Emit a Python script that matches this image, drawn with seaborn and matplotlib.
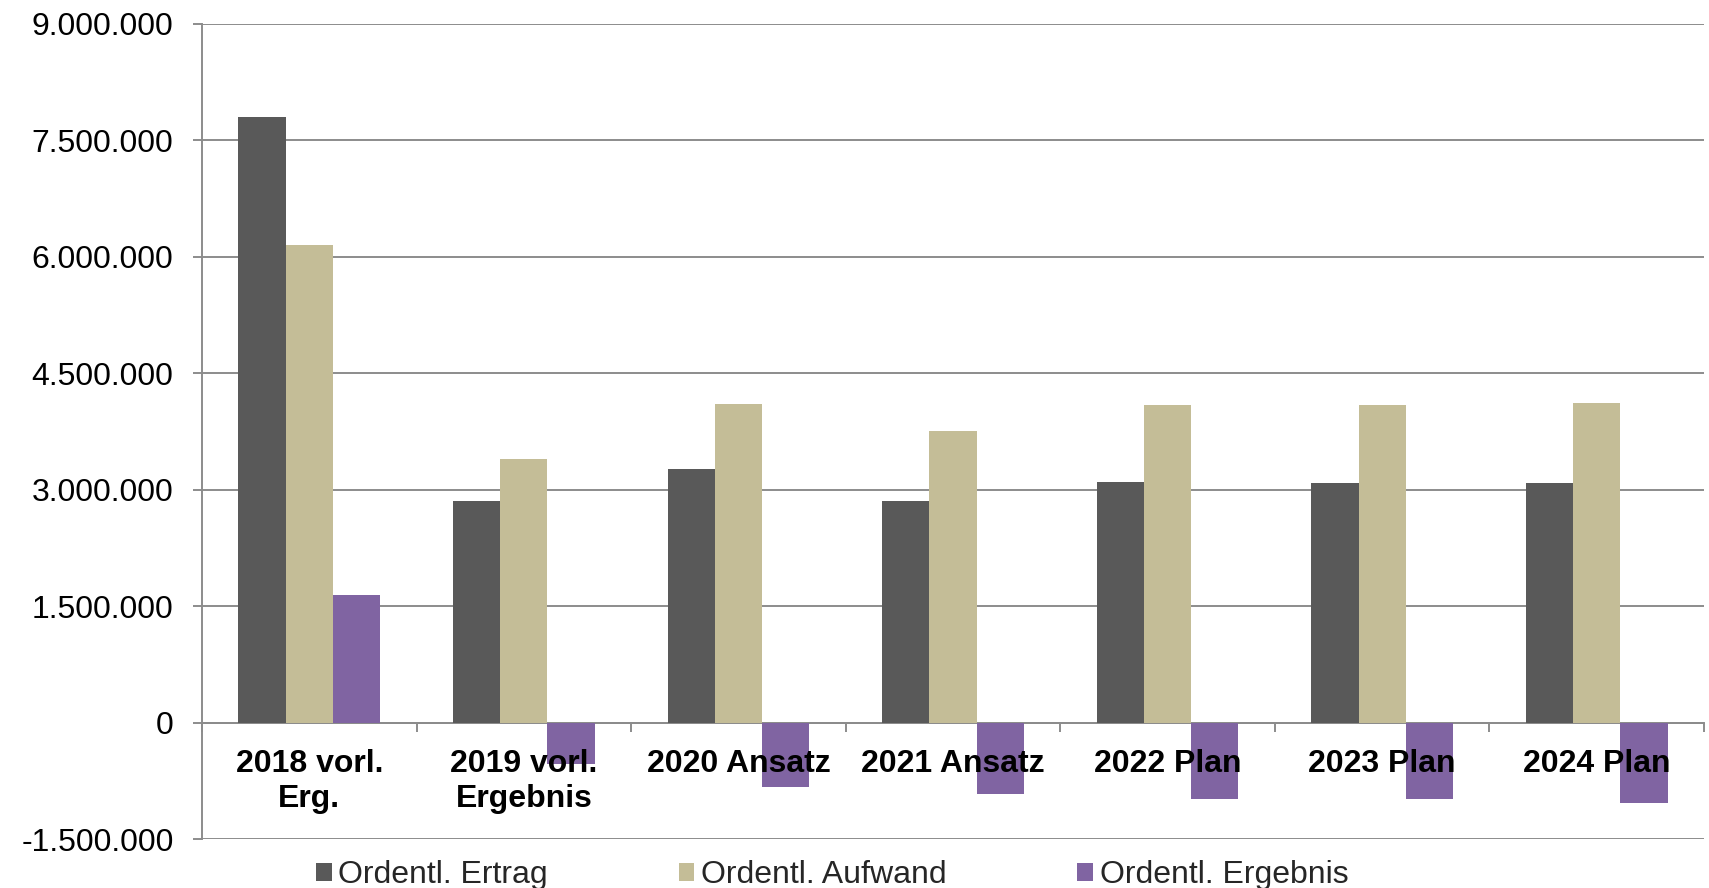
import matplotlib
matplotlib.use("Agg")
import matplotlib.pyplot as plt
import matplotlib.ticker as mticker
from matplotlib.patches import Patch
import seaborn as sns
import pandas as pd

# ---- data ----
kategorien = ["2018 vorl.\nErg.", "2019 vorl.\nErgebnis", "2020 Ansatz", "2021 Ansatz",
              "2022 Plan", "2023 Plan", "2024 Plan"]
serien = ["Ordentl. Ertrag", "Ordentl. Aufwand", "Ordentl. Ergebnis"]
ertrag = [7800000, 2860000, 3270000, 2850000, 3100000, 3090000, 3090000]
aufwand = [6150000, 3390000, 4100000, 3760000, 4090000, 4090000, 4120000]
ergebnis = [1650000, -530000, -830000, -920000, -980000, -990000, -1030000]
farben = ["#595959", "#C4BD97", "#8064A2"]
y_ticks = [-1500000, 0, 1500000, 3000000, 4500000, 6000000, 7500000, 9000000]

rows = []
for name, vals in zip(serien, [ertrag, aufwand, ergebnis]):
    for k, v in zip(kategorien, vals):
        rows.append({"Kategorie": k, "Serie": name, "Wert": v})
df = pd.DataFrame(rows)

sns.set_theme(style="white")
plt.rcParams["font.family"] = ["Liberation Sans", "DejaVu Sans"]

fig = plt.figure(figsize=(17.09, 8.88), dpi=100)
ax = fig.add_axes([202 / 1709, 49 / 888, (1704 - 202) / 1709, (839 - 24) / 888])

sns.barplot(data=df, x="Kategorie", y="Wert", hue="Serie", hue_order=serien,
            order=kategorien, palette=farben, width=0.66, errorbar=None,
            saturation=1, linewidth=0, legend=False, ax=ax, zorder=2)

grid_c = "#8c8c8c"
ax.set_ylim(-1500000, 9000000)
ax.set_xlim(-0.5, len(kategorien) - 0.5)
ax.set_yticks(y_ticks)
ax.yaxis.set_major_formatter(mticker.FuncFormatter(
    lambda v, p: f"{int(round(v)):,}".replace(",", ".")))
ax.grid(False)
ax.set_axisbelow(False)
for yv in y_ticks:
    ax.axhline(yv, color=grid_c, linewidth=1.4, zorder=0.5)

for s in ["top", "right"]:
    ax.spines[s].set_visible(False)
ax.spines["left"].set_color(grid_c)
ax.spines["left"].set_linewidth(1.4)
ax.spines["bottom"].set_position(("data", 0))
ax.spines["bottom"].set_color(grid_c)
ax.spines["bottom"].set_linewidth(1.4)
ax.spines["bottom"].set_zorder(1)

ax.tick_params(axis="y", which="major", length=6.5, width=1.4, color=grid_c,
               labelsize=23, pad=14, labelcolor="black", left=True)
ax.set_xticks(range(len(kategorien)))
ax.set_xticklabels(kategorien, fontweight="bold", fontsize=23)
ax.tick_params(axis="x", which="major", length=0, pad=19, labelcolor="black")
ax.set_xticks([i - 0.5 for i in range(len(kategorien) + 1)], minor=True)
ax.tick_params(axis="x", which="minor", length=6.5, width=1.4, color=grid_c,
               direction="out", bottom=True)
ax.set_xlabel("")
ax.set_ylabel("")

handles = [Patch(facecolor=c, edgecolor="none", label=s) for c, s in zip(farben, serien)]
fig.legend(handles=handles, loc="center", bbox_to_anchor=(832 / 1709, 1 - 875 / 888),
           ncol=3, frameon=False, fontsize=23, handlelength=0.5, handleheight=0.5,
           handletextpad=0.2, columnspacing=4.1, borderpad=0, borderaxespad=0)

fig.savefig("out.png", dpi=100)
